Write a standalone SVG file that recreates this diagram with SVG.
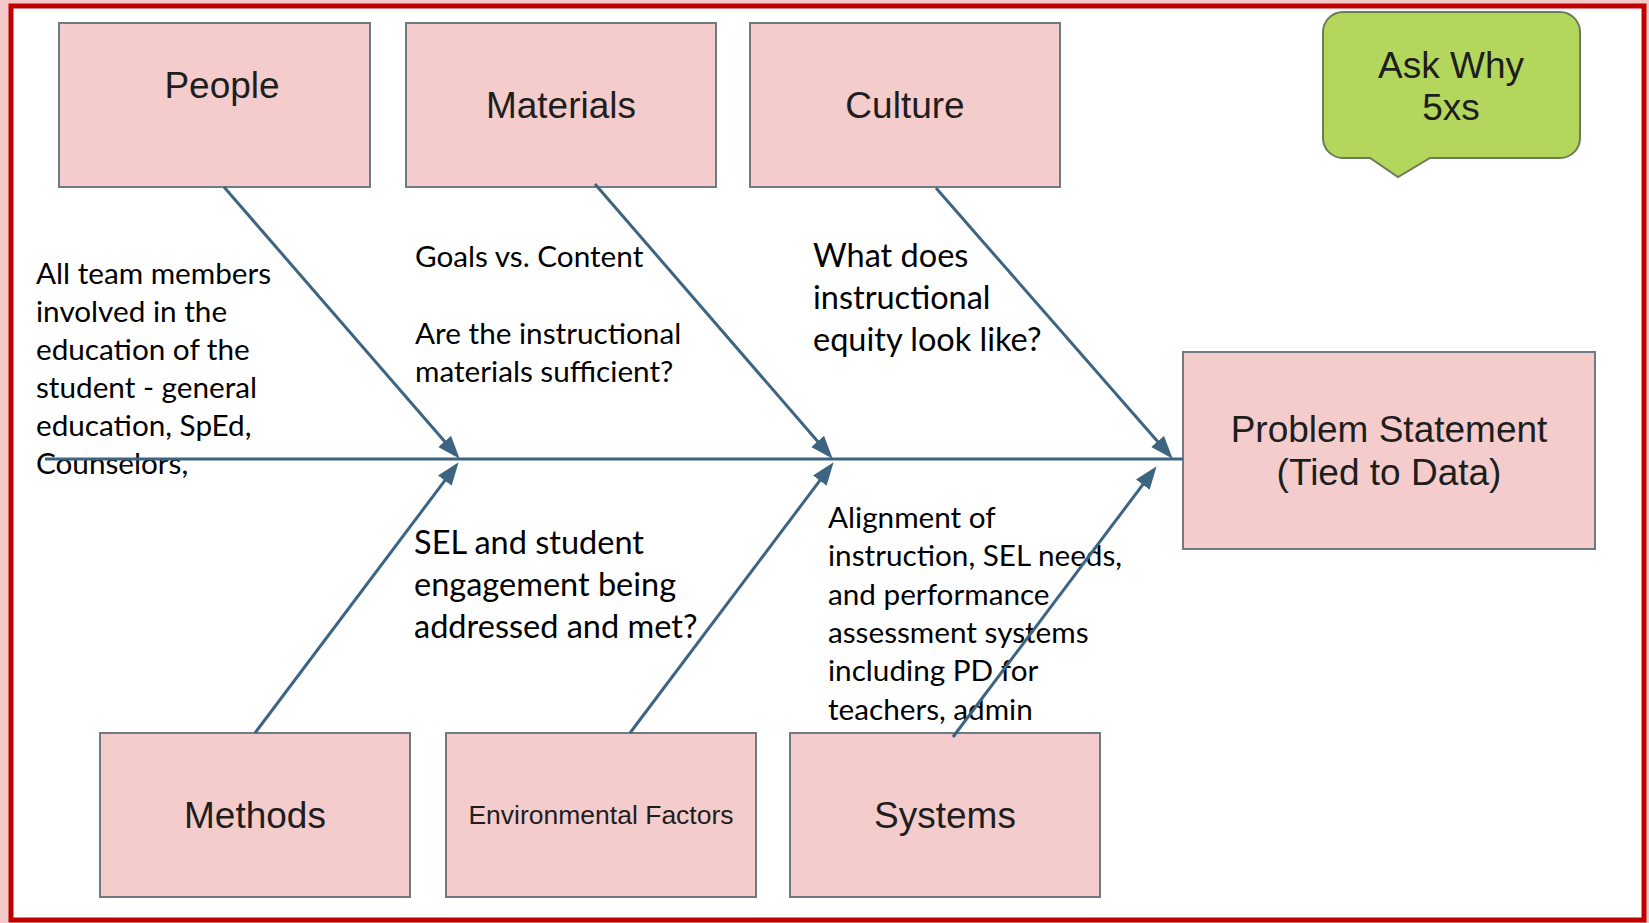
<svg xmlns="http://www.w3.org/2000/svg" width="1649" height="923" viewBox="0 0 1649 923">
<style>
.box{fill:#f4cccc;stroke:#6e7b87;stroke-width:2}
.bt{font-family:"Liberation Sans",Arial,sans-serif;font-size:37px;fill:#1e1e1e;text-anchor:middle}
.note{font-family:Lato,"Open Sans",sans-serif;font-size:29.7px;fill:#000}
.note2{font-family:Lato,"Open Sans",sans-serif;font-size:32.5px;fill:#000}
.conn{stroke:#3d6480;stroke-width:3;fill:none}
</style>
<defs>
<marker id="ah" markerUnits="userSpaceOnUse" markerWidth="26" markerHeight="20" refX="16" refY="8.5" orient="auto">
<path d="M0,0 L23,8.5 L0,17 Z" fill="#3d6480"/>
</marker>
</defs>
<rect x="0" y="0" width="1649" height="923" fill="#f5c9c9"/>
<rect x="11" y="6" width="1633" height="914" fill="#ffffff" stroke="#c00000" stroke-width="5"/>

<g id="annotations">
<text class="note" x="36" y="284">All team members</text>
<text class="note" x="36" y="322">involved in the</text>
<text class="note" x="36" y="360">education of the</text>
<text class="note" x="36" y="398">student - general</text>
<text class="note" x="36" y="436">education, SpEd,</text>
<text class="note" x="36" y="474">Counselors,</text>
<text class="note" x="415" y="267">Goals vs. Content</text>
<text class="note" x="415" y="344">Are the instructional</text>
<text class="note" x="415" y="382">materials sufficient?</text>
<text class="note2" x="813" y="267">What does</text>
<text class="note2" x="813" y="309">instructional</text>
<text class="note2" x="813" y="351">equity look like?</text>
<text class="note2" x="414" y="554">SEL and student</text>
<text class="note2" x="414" y="596">engagement being</text>
<text class="note2" x="414" y="638">addressed and met?</text>
<text class="note" x="828" y="528">Alignment of</text>
<text class="note" x="828" y="566">instruction, SEL needs,</text>
<text class="note" x="828" y="605">and performance</text>
<text class="note" x="828" y="643">assessment systems</text>
<text class="note" x="828" y="681">including PD for</text>
<text class="note" x="828" y="720">teachers, admin</text>
</g>

<g id="people"><rect class="box" x="59" y="23" width="311" height="164"/><text class="bt" x="222" y="98">People</text></g>
<g id="materials"><rect class="box" x="406" y="23" width="310" height="164"/><text class="bt" x="561" y="118">Materials</text></g>
<g id="culture"><rect class="box" x="750" y="23" width="310" height="164"/><text class="bt" x="905" y="118">Culture</text></g>
<g id="methods"><rect class="box" x="100" y="733" width="310" height="164"/><text class="bt" x="255" y="828">Methods</text></g>
<g id="environmental-factors"><rect class="box" x="446" y="733" width="310" height="164"/><text class="bt" x="601" y="824" style="font-size:26.5px">Environmental Factors</text></g>
<g id="systems"><rect class="box" x="790" y="733" width="310" height="164"/><text class="bt" x="945" y="828">Systems</text></g>
<g id="problem-statement"><rect class="box" x="1183" y="352" width="412" height="197"/><text class="bt" x="1389" y="442">Problem Statement</text><text class="bt" x="1389" y="485">(Tied to Data)</text></g>
<g id="ask-why"><path d="M1343,12 H1560 A20,20 0 0 1 1580,32 V138 A20,20 0 0 1 1560,158 H1430 L1398,177 L1370,158 H1343 A20,20 0 0 1 1323,138 V32 A20,20 0 0 1 1343,12 Z" fill="#b3d65c" stroke="#6b7d55" stroke-width="2"/><text class="bt" x="1451" y="78">Ask Why</text><text class="bt" x="1451" y="120">5xs</text></g>

<g id="connectors">
<line class="conn" x1="45" y1="459" x2="1183" y2="459"/>
<line class="conn" x1="224" y1="187" x2="455.1" y2="453.5" marker-end="url(#ah)"/>
<line class="conn" x1="595" y1="184" x2="828.1" y2="453.5" marker-end="url(#ah)"/>
<line class="conn" x1="936" y1="188" x2="1168.1" y2="453.5" marker-end="url(#ah)"/>
<line class="conn" x1="255" y1="733" x2="454.4" y2="467.8" marker-end="url(#ah)"/>
<line class="conn" x1="630" y1="733" x2="829.4" y2="467.8" marker-end="url(#ah)"/>
<line class="conn" x1="953" y1="737" x2="1152.4" y2="471.8" marker-end="url(#ah)"/>
</g>
</svg>
